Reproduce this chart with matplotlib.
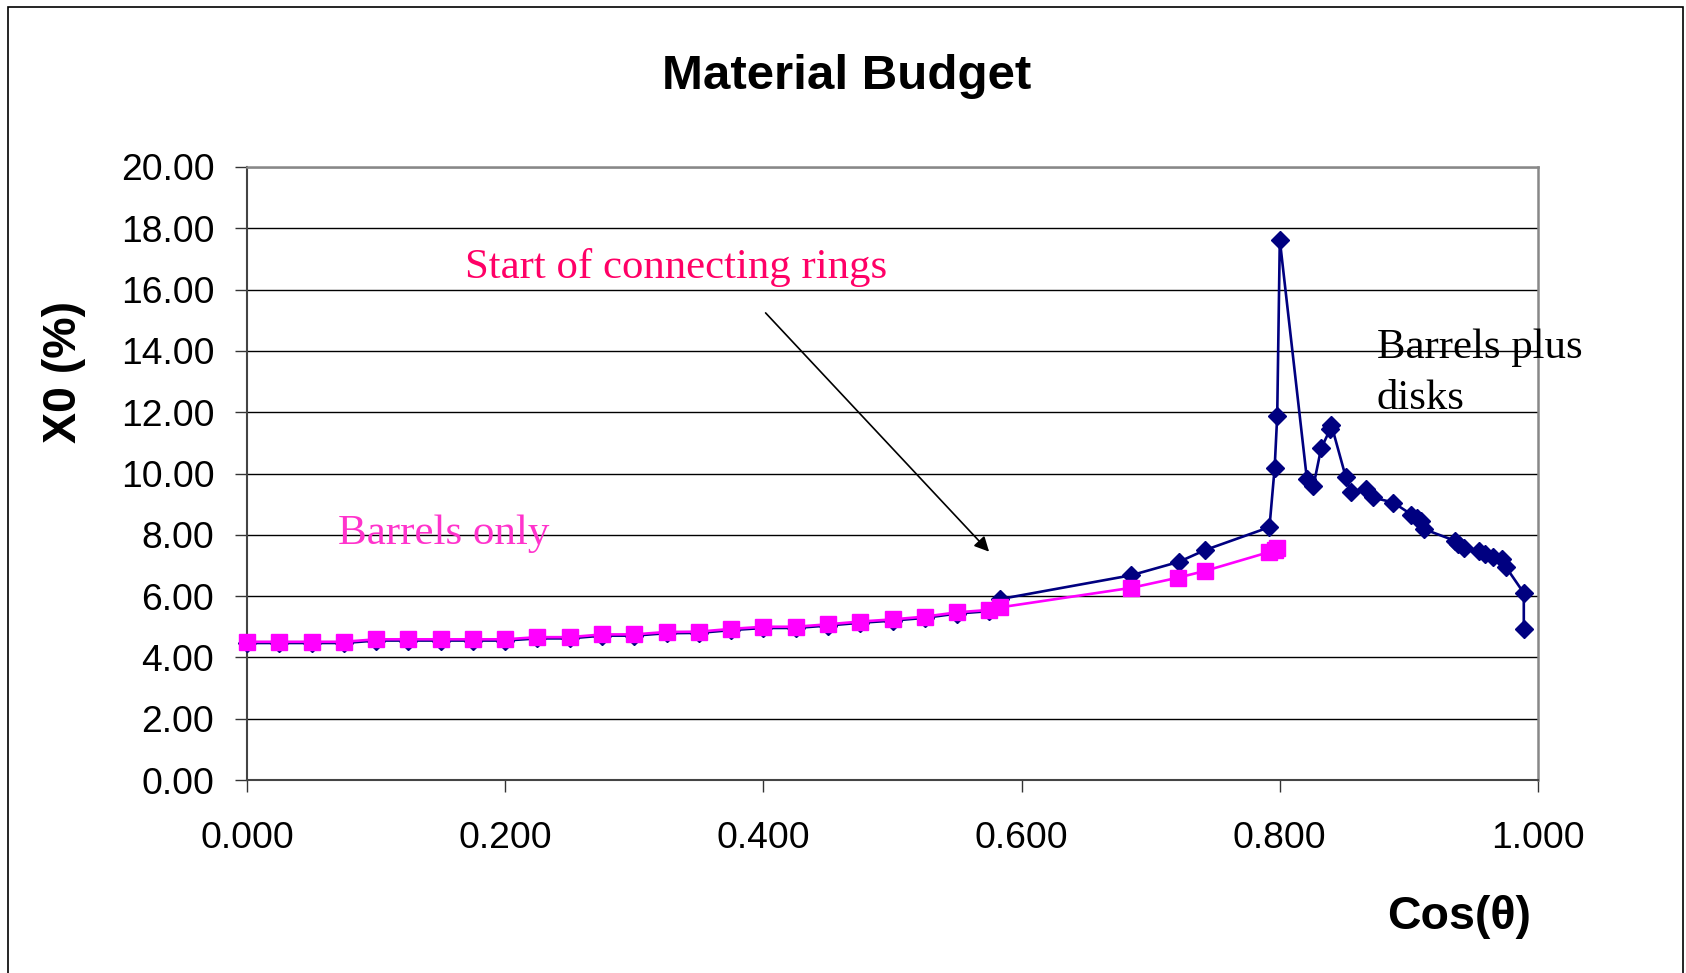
import matplotlib
matplotlib.use("Agg")
import matplotlib.pyplot as plt
from matplotlib.patches import Rectangle
from matplotlib.ticker import FormatStrFormatter

W, H = 1686, 973

# barrels plus disks (navy diamonds)
cos_total = [0.000, 0.025, 0.050, 0.075, 0.100, 0.125, 0.150, 0.175, 0.200, 0.225,
             0.250, 0.275, 0.300, 0.325, 0.350, 0.375, 0.400, 0.425, 0.450, 0.475,
             0.500, 0.525, 0.550, 0.575, 0.583, 0.685, 0.722, 0.742, 0.792, 0.796,
             0.798, 0.800, 0.821, 0.826, 0.832, 0.839, 0.840, 0.851, 0.855, 0.867,
             0.872, 0.888, 0.902, 0.906, 0.909, 0.912, 0.936, 0.938, 0.943, 0.954,
             0.959, 0.965, 0.972, 0.975, 0.989, 0.989]
x0_total = [4.47, 4.47, 4.47, 4.47, 4.55, 4.55, 4.55, 4.55, 4.55, 4.62,
            4.62, 4.71, 4.71, 4.79, 4.80, 4.89, 4.96, 4.96, 5.04, 5.13,
            5.20, 5.29, 5.43, 5.51, 5.90, 6.68, 7.12, 7.50, 8.25, 10.18,
            11.88, 17.62, 9.82, 9.58, 10.82, 11.44, 11.58, 9.90, 9.40, 9.50,
            9.22, 9.05, 8.66, 8.56, 8.45, 8.18, 7.80, 7.70, 7.56, 7.48,
            7.38, 7.28, 7.20, 6.96, 6.10, 4.92]

# barrels only (magenta squares)
cos_barrels = [0.000, 0.025, 0.050, 0.075, 0.100, 0.125, 0.150, 0.175, 0.200, 0.225,
               0.250, 0.275, 0.300, 0.325, 0.350, 0.375, 0.400, 0.425, 0.450, 0.475,
               0.500, 0.525, 0.550, 0.575, 0.583, 0.685, 0.721, 0.742, 0.792, 0.796,
               0.798]
x0_barrels = [4.51, 4.51, 4.51, 4.51, 4.59, 4.59, 4.59, 4.59, 4.59, 4.66,
              4.66, 4.75, 4.75, 4.83, 4.84, 4.93, 5.00, 5.00, 5.08, 5.17,
              5.24, 5.33, 5.47, 5.55, 5.63, 6.27, 6.60, 6.82, 7.44, 7.52,
              7.56]

x_ticks = [0.0, 0.2, 0.4, 0.6, 0.8, 1.0]
y_ticks = [0, 2, 4, 6, 8, 10, 12, 14, 16, 18, 20]

SANS = "Liberation Sans"
SERIF = "Liberation Serif"


def fx(px):
    return px / W


def fy(py):
    return 1 - py / H


fig = plt.figure(figsize=(W / 100, H / 100), dpi=100)
fig.patch.set_facecolor("white")

# outer chart frame (bottom edge lies outside the picture)
fig.add_artist(Rectangle((fx(8), -0.05), fx(1683) - fx(8), fy(7) + 0.05,
                         transform=fig.transFigure, fill=False,
                         edgecolor="black", linewidth=1.2))

ax = fig.add_axes([fx(247), fy(780), fx(1538) - fx(247), fy(167) - fy(780)])

ax.plot(cos_total, x0_total, color="#000080", marker="D", markersize=9.5,
        linewidth=1.9, zorder=3, clip_on=False)
ax.plot(cos_barrels, x0_barrels, color="#FF00FF", marker="s", markersize=11.5,
        linewidth=1.9, zorder=4, clip_on=False)

ax.set_xlim(0, 1)
ax.set_ylim(0, 20)
ax.set_xticks(x_ticks)
ax.set_yticks(y_ticks)
ax.xaxis.set_major_formatter(FormatStrFormatter("%.3f"))
ax.yaxis.set_major_formatter(FormatStrFormatter("%.2f"))
ax.yaxis.grid(True, color="black", linewidth=1.0)
ax.set_axisbelow(True)

for side in ("top", "right"):
    ax.spines[side].set_color("#888888")
    ax.spines[side].set_linewidth(1.8)
for side in ("left", "bottom"):
    ax.spines[side].set_color("#444444")
    ax.spines[side].set_linewidth(1.5)

ax.tick_params(axis="both", direction="out", length=8.5, width=1.0,
               color="#333333", labelsize=26.8)
ax.tick_params(axis="y", pad=15)
ax.tick_params(axis="x", pad=21)
for lab in ax.get_xticklabels() + ax.get_yticklabels():
    lab.set_fontfamily(SANS)

fig.text(fx(847), fy(89), "Material Budget", ha="center", va="baseline",
         fontsize=35.5, fontweight="bold", family=SANS)
fig.text(fx(64), fy(372), "X0 (%)", ha="center", va="center", rotation=90,
         fontsize=33.5, fontweight="bold", family=SANS)
fig.text(fx(1531), fy(929), "Cos(θ)", ha="right", va="baseline",
         fontsize=33.5, fontweight="bold", family=SANS)

fig.text(fx(465), fy(278), "Start of connecting rings", ha="left", va="baseline",
         fontsize=30.8, color="#FF0066", family=SERIF)
fig.text(fx(338), fy(544), "Barrels only", ha="left", va="baseline",
         fontsize=31, color="#FF33CC", family=SERIF)
fig.text(fx(1377), fy(358), "Barrels plus", ha="left", va="baseline",
         fontsize=30.8, color="black", family=SERIF)
fig.text(fx(1377), fy(409), "disks", ha="left", va="baseline",
         fontsize=30.8, color="black", family=SERIF)

ax.annotate("", xy=(0.5748, 7.45), xytext=(0.4017, 15.24),
            arrowprops=dict(arrowstyle="-|>", color="black", lw=1.2,
                            mutation_scale=22, shrinkA=0, shrinkB=0),
            annotation_clip=False)

fig.savefig("out.png", dpi=100)
